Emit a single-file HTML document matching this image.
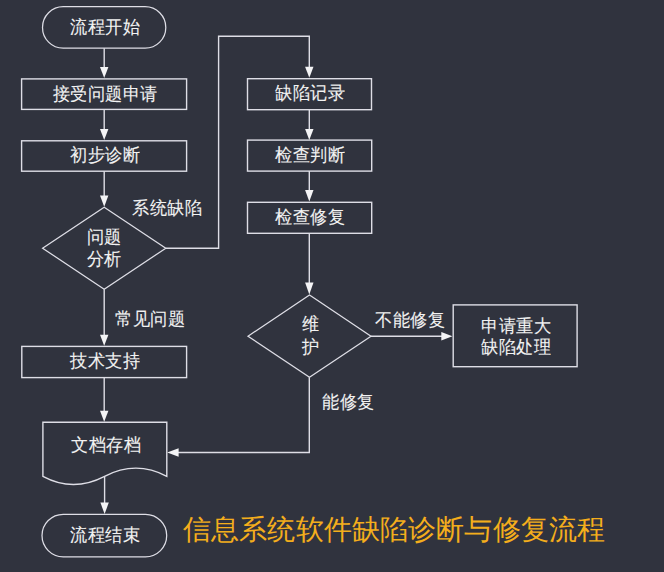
<!DOCTYPE html>
<html><head><meta charset="utf-8">
<style>
html,body{margin:0;padding:0;width:664px;height:572px;overflow:hidden;background:#30333e;}
svg{position:absolute;left:0;top:0;}
.t{position:absolute;font-family:"Liberation Sans",sans-serif;color:#f2f2f2;font-size:17px;letter-spacing:0.5px;line-height:20px;white-space:nowrap;text-align:center;-webkit-text-stroke:0.1px #f2f2f2;transform:scaleY(1.05);}
.title{position:absolute;font-family:"Liberation Sans",sans-serif;color:#f4ae1c;font-size:28px;letter-spacing:0.15px;line-height:34px;white-space:nowrap;}
</style></head><body>
<svg width="664" height="572" viewBox="0 0 664 572">
<g fill="none" stroke="#dedee6" stroke-width="1.4">
  <!-- left column -->
  <rect x="42.5" y="6.7" width="123.3" height="41.5" rx="20.75" ry="20.75" stroke-width="1.25"/>
  <rect x="21.6" y="78.9" width="165" height="30.5"/>
  <rect x="21.6" y="140.8" width="165" height="30.4"/>
  <path d="M104.2 207.2 L165.8 248.2 L104.2 289.3 L42.6 248.2 Z" stroke-width="1.25"/>
  <rect x="21.8" y="346.4" width="164.8" height="31.2"/>
  <path d="M42.9 422.3 H166.8 V476.3 Q136 460 104.6 476.3 T42.9 476.3 Z"/>
  <rect x="42" y="514.3" width="124.7" height="42.5" rx="21.25" ry="21.25" stroke-width="1.25"/>
  <!-- right column -->
  <rect x="247.5" y="78.7" width="124" height="31"/>
  <rect x="247.5" y="140.1" width="124.2" height="31"/>
  <rect x="247.5" y="202.3" width="124.2" height="31"/>
  <path d="M309.5 295 L371 336.2 L309.5 377.2 L248 336.2 Z" stroke-width="1.25"/>
  <rect x="453.2" y="304.9" width="123.9" height="61.8"/>
  <!-- connectors -->
  <path d="M104.2 48.2 V68"/>
  <path d="M104.2 109.4 V130"/>
  <path d="M104.2 171.2 V196"/>
  <path d="M104.2 289.3 V335"/>
  <path d="M104.2 377.6 V411"/>
  <path d="M104.6 476.5 V503"/>
  <path d="M165.8 248.2 H218.6 V36.2 H309.3 V67"/>
  <path d="M309.3 109.7 V130"/>
  <path d="M309.3 171.1 V191"/>
  <path d="M309.3 233.3 V283"/>
  <path d="M371 336.2 H442"/>
  <path d="M309.3 377.2 V452.5 H178"/>
</g>
<g fill="#f4f4f6" stroke="none">
  <path d="M100 67 L108.4 67 L104.2 78 Z"/>
  <path d="M100 129 L108.4 129 L104.2 140 Z"/>
  <path d="M100 195.5 L108.4 195.5 L104.2 206.8 Z"/>
  <path d="M100 334.7 L108.4 334.7 L104.2 345.8 Z"/>
  <path d="M100 410.7 L108.4 410.7 L104.2 421.8 Z"/>
  <path d="M100.4 502.6 L108.8 502.6 L104.6 514 Z"/>
  <path d="M305.1 66.8 L313.5 66.8 L309.3 77.8 Z"/>
  <path d="M305.1 129 L313.5 129 L309.3 140 Z"/>
  <path d="M305.1 190 L313.5 190 L309.3 201.5 Z"/>
  <path d="M305.1 282.5 L313.5 282.5 L309.3 294.5 Z"/>
  <path d="M441.3 332 L441.3 340.4 L452.4 336.2 Z"/>
  <path d="M178.6 448.3 L178.6 456.7 L167.2 452.5 Z"/>
</g>
</svg>
<div class="t" style="left:55px;top:18px;width:100px">流程开始</div>
<div class="t" style="left:25px;top:85px;width:160px">接受问题申请</div>
<div class="t" style="left:25px;top:146px;width:160px">初步诊断</div>
<div class="t" style="left:54px;top:227px;width:100px;line-height:21px">问题<br>分析</div>
<div class="t" style="left:132px;top:199px">系统缺陷</div>
<div class="t" style="left:115px;top:310px">常见问题</div>
<div class="t" style="left:25px;top:352px;width:160px">技术支持</div>
<div class="t" style="left:56px;top:436px;width:100px">文档存档</div>
<div class="t" style="left:55px;top:526px;width:100px">流程结束</div>
<div class="t" style="left:260px;top:84px;width:100px">缺陷记录</div>
<div class="t" style="left:260px;top:146px;width:100px">检查判断</div>
<div class="t" style="left:260px;top:208px;width:100px">检查修复</div>
<div class="t" style="left:261px;top:314px;width:100px;line-height:22px">维<br>护</div>
<div class="t" style="left:375px;top:311px">不能修复</div>
<div class="t" style="left:466px;top:317px;width:100px;line-height:20px">申请重大<br>缺陷处理</div>
<div class="t" style="left:322px;top:393px">能修复</div>
<div class="title" style="left:183px;top:513px">信息系统软件缺陷诊断与修复流程</div>
</body></html>
